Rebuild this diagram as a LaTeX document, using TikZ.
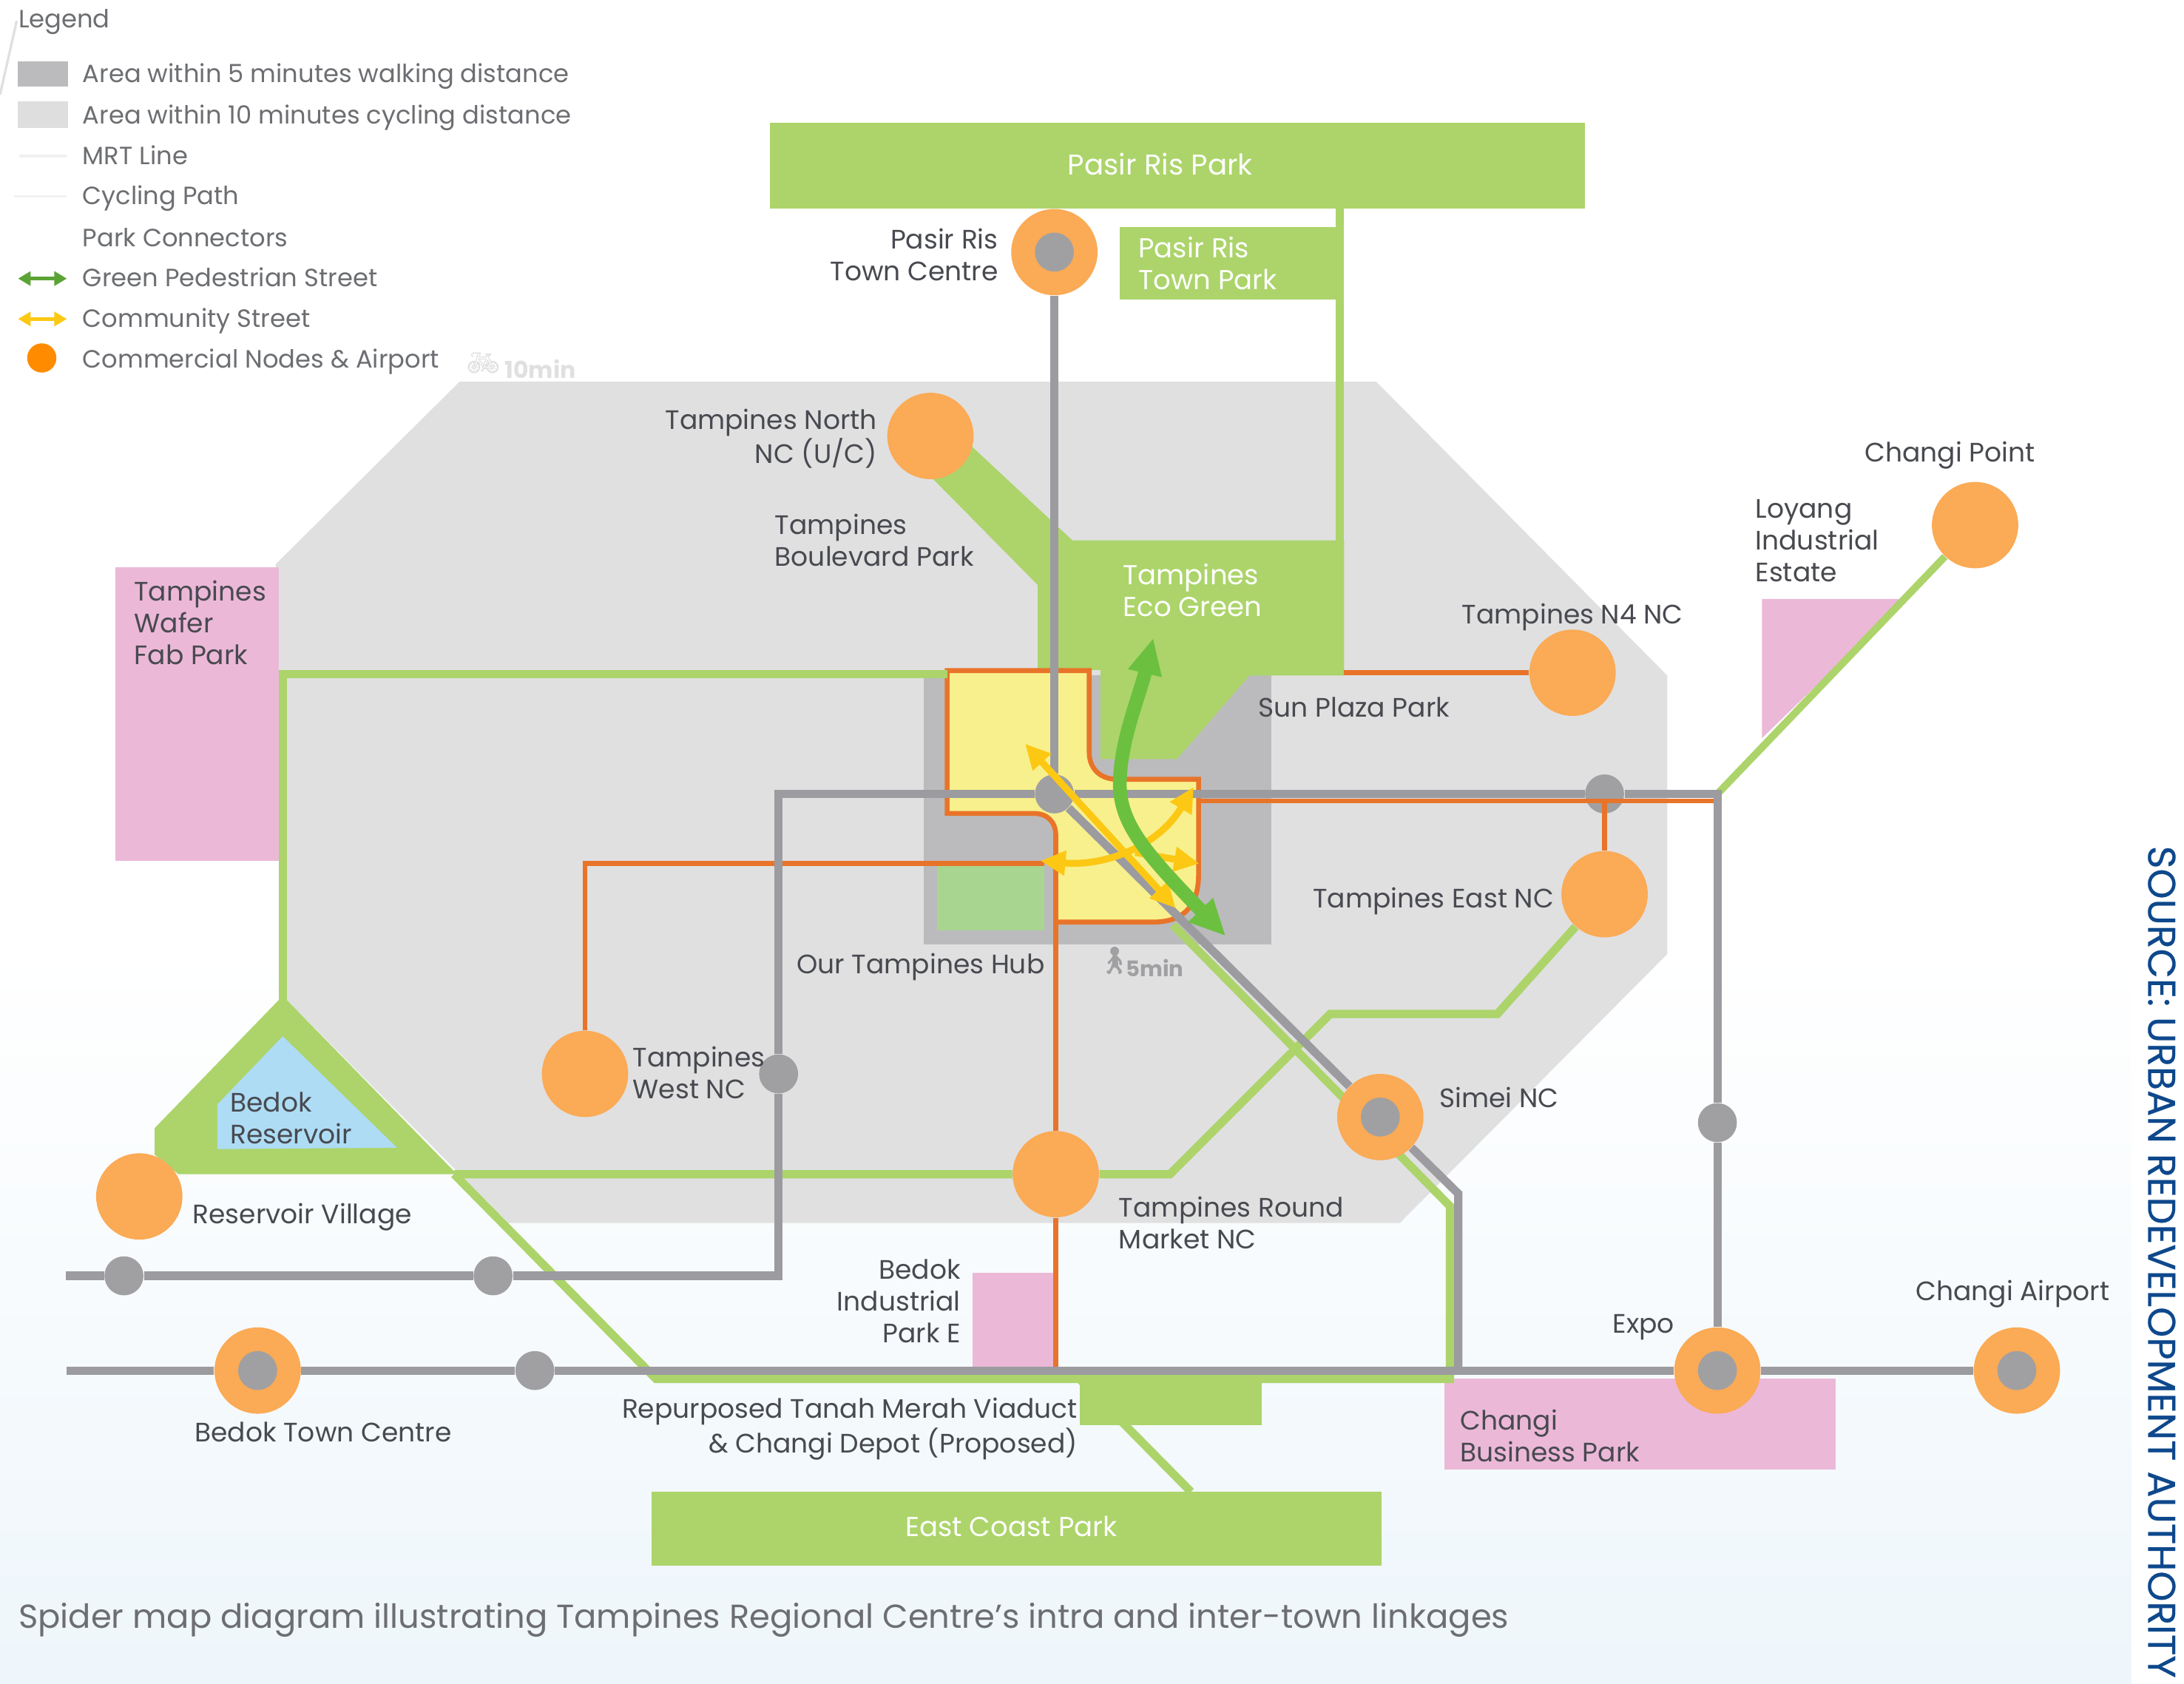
\documentclass[tikz,border=0pt]{standalone}
\usepackage{fontspec}
\setmainfont{Poppins}
\newfontfamily\emojifont{Noto Emoji}
\newfontfamily\sourcefont[FakeBold=0.5]{Poppins}
\definecolor{parkgreen}{RGB}{172,212,106}
\definecolor{softgreen}{RGB}{168,214,144}
\definecolor{pedgreen}{RGB}{108,192,64}
\definecolor{mrtgrey}{RGB}{155,155,160}
\definecolor{dotgrey}{RGB}{160,160,162}
\definecolor{walkgrey}{RGB}{187,187,189}
\definecolor{cyclegrey}{RGB}{224,224,225}
\definecolor{nodeorange}{RGB}{251,170,85}
\definecolor{pathorange}{RGB}{232,116,42}
\definecolor{hubyellow}{RGB}{248,240,140}
\definecolor{streetyellow}{RGB}{252,200,20}
\definecolor{parkpink}{RGB}{236,184,216}
\definecolor{resblue}{RGB}{174,220,245}
\definecolor{inktext}{RGB}{72,74,80}
\definecolor{legendtext}{RGB}{108,110,114}
\definecolor{sourceblue}{RGB}{14,72,140}
\definecolor{washblue}{RGB}{238,246,251}
\usetikzlibrary{arrows.meta,positioning,calc}
\begin{document}
\begin{tikzpicture}[x=0.02cm,y=-0.02cm,
    every node/.style={font=\fontsize{10.9}{13}\selectfont, text=inktext, inner sep=0pt},
    labl/.style={anchor=west, align=left},
    labr/.style={anchor=east, align=right},
    legtxt/.style={anchor=base west, text=legendtext, font=\fontsize{10.2}{13}\selectfont},
    onpark/.style={text=white, font=\fontsize{11.2}{13}\selectfont},
    orangenode/.style={circle, fill=nodeorange, minimum size=1.24cm},
    stationnode/.style={orangenode, path picture={\fill[dotgrey] (path picture bounding box.center) circle (0.28cm);}},
    dotnode/.style={circle, fill=dotgrey, minimum size=0.56cm},
    mrtline/.style={draw=mrtgrey, line width=3.4pt},
    greenline/.style={draw=parkgreen, line width=3.4pt},
    cycleline/.style={draw=pathorange, line width=2pt},
    parkbox/.style={fill=parkgreen},
    pinkbox/.style={fill=parkpink},
    pedarrow/.style={draw=pedgreen, line width=5.6pt, {Triangle[width=0.46cm,length=0.52cm]}-{Triangle[width=0.46cm,length=0.52cm]}},
    streetarrow/.style={draw=streetyellow, line width=2.8pt, {Triangle[width=0.34cm,length=0.36cm]}-{Triangle[width=0.34cm,length=0.36cm]}}]
    \useasboundingbox (0,0) rectangle (1568,1209);
    \fill[white] (0,0) rectangle (1568,1209);
    \shade[top color=white, bottom color=washblue] (0,680) rectangle (1530,1209);
    \draw[cyclegrey, line width=1pt] (12,15) -- (0,68);

    % catchment areas
    \fill[cyclegrey] (330,274) -- (988,274) -- (1197,485) -- (1197,685) -- (1005,878) -- (365,878) -- (203,715) -- (198,405) -- cycle;
    \fill[walkgrey] (663,485) rectangle (913,678);

    % parks
    \fill[parkbox] (695,318) -- (770,388) -- (965,388) -- (965,485) -- (897,485) -- (845,545) -- (790,545) -- (790,481) -- (745,481) -- (745,420) -- (668,342) -- cycle;
    \fill[softgreen] (673,621) rectangle (750,668);
    \fill[parkbox] (553,88) rectangle (1138,150);
    \fill[parkbox] (804,163) rectangle (962,215);
    \fill[parkbox] (468,1071) rectangle (992,1124);
    \fill[parkbox] (775,990) rectangle (906,1023);
    \fill[parkbox] (203,715) -- (328,843) -- (128,843) -- (111,829) -- (111,810) -- cycle;
    \fill[resblue] (203,744) -- (285,824) -- (156,825) -- (156,793) -- cycle;
    \fill[pinkbox] (83,407) rectangle (200,618);
    \fill[pinkbox] (1265,430) -- (1368,430) -- (1265,530) -- cycle;
    \fill[pinkbox] (698,914) rectangle (758,981);
    \fill[pinkbox] (1037,990) rectangle (1318,1055);

    % hub
    \draw[fill=hubyellow, draw=pathorange, line width=2pt] (680,481.5) -- (782,481.5) -- (782,540) .. controls (782,552) and (790,559.5) .. (802,559.5) -- (860.5,559.5) -- (860.5,628) .. controls (860.5,650) and (850,662) .. (828,662) -- (758,662) -- (758,600) .. controls (758,590) and (752,584) .. (742,584) -- (680,584) -- cycle;

    % junctions
    \coordinate (hubL) at (680,484);
    \coordinate (wafer) at (203,484);
    \coordinate (apex) at (203,720);
    \coordinate (tri) at (326,843);
    \coordinate (viaW) at (471,990);
    \coordinate (viaE) at (1041,990);
    \coordinate (simA) at (842,664);
    \coordinate (simB) at (1041,866);
    \coordinate (viaD) at (775,990);
    \coordinate (ecp) at (855,1071);
    \coordinate (prk) at (962,150);
    \coordinate (eco) at (962,388);
    \coordinate (mrtE) at (1233,570);
    \coordinate (mrtW) at (559,570);
    \coordinate (mrtS) at (559,916);
    \coordinate (mrtEnd) at (47,916);
    \coordinate (ewEnd) at (48,984);
    \coordinate (simC) at (1047,857);
    \coordinate (simD) at (1047,984);
    \coordinate (cyA) at (840,843);
    \coordinate (cyB) at (955,728);
    \coordinate (cyC) at (1075,728);

    % park connectors below the stations
    \draw[greenline] (hubL) -- (wafer) -- (apex);
    \draw[greenline] (tri) -- (viaW) -- (viaE) -- (simB) -- (simA);
    \draw[greenline] (viaD) -- (ecp);
    \draw[greenline] (prk) -- (eco);

    % stations
    \foreach \nm/\cx/\cy in {tamN/668/313, tamW/420/771, resV/100/859, tamR/758/843, tamF/1129/483, tamE/1152/642, chgP/1418/377} {
        \node[orangenode] (\nm) at (\cx,\cy) {};
    }
    \foreach \nm/\cx/\cy in {prTC/757/181, bdTC/185/984, simei/991/802, expo/1233/984, chgA/1448/984} {
        \node[stationnode] (\nm) at (\cx,\cy) {};
    }
    \foreach \nm/\cx/\cy in {itm/757/570, dE/1152/570, dW/559/771, dS/1233/806, dA/89/916, dB/354/916, dC/384/984} {
        \node[dotnode] (\nm) at (\cx,\cy) {};
    }

    % cycling paths
    \draw[cycleline] (tamW) -- (420,620) coordinate (cwa) -- (750,620) coordinate (cwb);
    \draw[cycleline] (758,662) coordinate (cra) -- (tamR) -- (758,981) coordinate (crb);
    \draw[cycleline] (965,483) coordinate (cfa) -- (tamF);
    \draw[cycleline] (860,575) coordinate (cea) -- (1233,575) coordinate (ceb);
    \draw[cycleline] (1152,575) coordinate (cec) -- (tamE);

    % park connectors ending at stations
    \draw[greenline] (tri) -- (tamR) -- (cyA) -- (cyB) -- (cyC) -- (tamE);
    \draw[greenline, line width=3pt] (mrtE) -- (chgP);

    % mrt
    \draw[mrtline] (prTC) -- (itm);
    \draw[mrtline] (itm) -- (dE) -- (mrtE) -- (dS) -- (expo);
    \draw[mrtline] (itm) -- (mrtW) -- (dW) -- (mrtS) -- (dB) -- (dA) -- (mrtEnd);
    \draw[mrtline] (itm) -- (simei) -- (simC) -- (simD);
    \draw[mrtline] (ewEnd) -- (bdTC) -- (dC) -- (expo) -- (chgA);

    % streets
    \draw[streetarrow] (736,534) -- (844,652);
    \draw[streetarrow] (747,618) .. controls (790,622) and (830,610) .. (857,565);
    \draw[draw=streetyellow, line width=2.8pt, -{Triangle[width=0.34cm,length=0.36cm]}] (815,612) -- (861,620);
    \draw[pedarrow] (828,458) .. controls (818,500) and (805,530) .. (804,560) .. controls (803,590) and (820,610) .. (880,672);

    % labels on the map
    \node[onpark, font=\fontsize{11.7}{13}\selectfont] (lbPR) at (833,118) {Pasir Ris Park};
    \node[onpark, labl] (lbPT) at (817,189) {Pasir Ris\\Town Park};
    \node[onpark, labl] (lbEG) at (806,424) {Tampines\\Eco Green};
    \node[onpark] (lbEC) at (726,1096) {East Coast Park};
    \node[labr] (lbPC) at (717,183) {Pasir Ris\\Town Centre};
    \node[labr] (lbTN) at (630,315) {Tampines North\\NC (U/C)};
    \node[labl] (lbTB) at (556,388) {Tampines\\Boulevard Park};
    \node[labl] (lbWF) at (96,447) {Tampines\\Wafer\\Fab Park};
    \node (lbN4) at (1129,443) {Tampines N4 NC};
    \node[labl] (lbSP) at (903,508) {Sun Plaza Park};
    \node (lbCP) at (1400,327) {Changi Point};
    \node[labl] (lbLY) at (1260,388) {Loyang\\Industrial\\Estate};
    \node[labr] (lbTE) at (1116,647) {Tampines East NC};
    \node (lbHB) at (661,694) {Our Tampines Hub};
    \node[labl] (lbTW) at (454,770) {Tampines\\West NC};
    \node[labl] (lbBR) at (165,803) {Bedok\\Reservoir};
    \node[labl] (lbRV) at (138,874) {Reservoir Village};
    \node[labl] (lbSM) at (1033,788) {Simei NC};
    \node[labl] (lbRM) at (803,878) {Tampines Round\\Market NC};
    \node[labr] (lbBI) at (690,934) {Bedok\\Industrial\\Park E};
    \node (lbEX) at (1180,953) {Expo};
    \node (lbCA) at (1445,929) {Changi Airport};
    \node (lbBT) at (232,1028) {Bedok Town Centre};
    \node[labr] (lbRP) at (774,1026) {Repurposed Tanah Merah Viaduct\\\& Changi Depot (Proposed)};
    \node[labl] (lbCB) at (1048,1031) {Changi\\Business Park};

    % timing marks
    \node[text=dotgrey] (icW) at (800,690) {\emojifont\fontsize{11}{11}\selectfont 🚶};
    \node[anchor=west, text=dotgrey, font=\fontsize{8.8}{10}\selectfont\bfseries] (lb5) at (808,695) {5min};
    \node[text=cyclegrey] (icC) at (347,261) {\emojifont\fontsize{11}{11}\selectfont 🚲};
    \node[anchor=west, text=cyclegrey, font=\fontsize{9.5}{11}\selectfont\bfseries] (lb10) at (362,265) {10min};

    % legend
    \node[legtxt] (lgT) at (13,20) {Legend};
    \fill[walkgrey] (13,44) rectangle (49,62);
    \fill[black!13] (13,73) rectangle (49,92);
    \draw[cyclegrey!45, line width=1pt] (14,112) coordinate (lgA) -- (48,112) coordinate (lgB);
    \draw[cyclegrey!45, line width=1pt] (10,141) coordinate (lgC) -- (48,141) coordinate (lgD);
    \draw[draw=pedgreen!85!black, line width=1.6pt, {Triangle[width=0.2cm,length=0.18cm]}-{Triangle[width=0.2cm,length=0.18cm]}] (13,200) coordinate (lgE) -- (48,200) coordinate (lgF);
    \draw[draw=streetyellow, line width=1.6pt, {Triangle[width=0.2cm,length=0.18cm]}-{Triangle[width=0.2cm,length=0.18cm]}] (13,229) coordinate (lgG) -- (48,229) coordinate (lgH);
    \node[circle, fill=orange!90!yellow, minimum size=0.42cm] (lgO) at (30,257) {};
    \foreach \nm/\cy/\txt in {a/59/Area within 5 minutes walking distance, b/89/Area within 10 minutes cycling distance, c/118/MRT Line, d/147/Cycling Path, e/177/Park Connectors, f/206/Green Pedestrian Street, g/235/Community Street, h/264/Commercial Nodes \& Airport} {
        \node[legtxt] (lg\nm) at (59,\cy) {\txt};
    }

    % caption and source
    \node[anchor=west, text=legendtext, font=\fontsize{13.55}{16}\selectfont] (capt) at (13,1163) {Spider map diagram illustrating Tampines Regional Centre's intra and inter-town linkages};
    \node[anchor=west, rotate=-90, text=sourceblue, font=\sourcefont\fontsize{15.8}{18}\selectfont] (srce) at (1552,607) {SOURCE: URBAN REDEVELOPMENT AUTHORITY};
\end{tikzpicture}
\end{document}
